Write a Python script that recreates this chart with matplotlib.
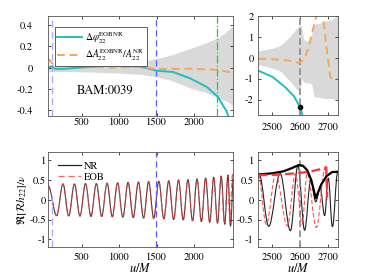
import matplotlib
matplotlib.use('Agg')
import matplotlib.pyplot as plt
from matplotlib.path import Path
from matplotlib.patches import PathPatch
from matplotlib.lines import Line2D
import numpy as np

plt.rcParams['font.family'] = ['STIXGeneral', 'DejaVu Serif']
plt.rcParams['mathtext.fontset'] = 'stix'
plt.rcParams['axes.unicode_minus'] = False

#%% data
# vertical markers (u/M)
u_start = 108
u_match = 1490
u_green = 2310
u_merger = 2600

# top-left: uncertainty band
u_band = [55, 300, 700, 1000, 1300, 1500, 1700, 1950, 2150, 2315, 2420, 2515]
band_hi = [0.03, 0.032, 0.04, 0.05, 0.06, 0.085, 0.12, 0.18, 0.23, 0.28, 0.33, 0.39]
band_lo = [-0.035, -0.035, -0.042, -0.05, -0.063, -0.085, -0.12, -0.19, -0.23, -0.28, -0.31, -0.35]

# top-left: phase difference
u_dphi = [55, 100, 150, 280, 460, 680, 900, 1000, 1120, 1260, 1350, 1500, 1720, 1950, 2170, 2315, 2436, 2480]
dphi = [0.0, 0.01, -0.012, -0.01, 0.0, 0.01, 0.025, 0.02, 0.015, 0.01, 0.0, -0.028, -0.04, -0.1, -0.18, -0.27, -0.41, -0.5]

# top-left: amplitude difference
u_damp = [55, 107, 218, 440, 900, 1262, 1497, 1720, 1949, 2315, 2515]
damp = [0.087, 0.04, 0.025, 0.02, 0.0, 0.01, -0.012, -0.012, -0.01, -0.02, -0.047]

# top-right (zoom on merger)
u_band_r = [2450, 2500, 2530, 2555, 2575, 2590, 2600, 2606, 2612, 2620, 2635, 2642, 2650, 2670, 2690, 2710, 2735]
band_hi_r = [0.33, 0.45, 0.6, 0.9, 1.2, 1.45, 1.55, 1.5, 0.9, 0.8, 0.8, 1.2, 1.6, 1.65, 1.75, 1.8, 2.0]
band_lo_r = [-0.33, -0.5, -0.65, -1.0, -1.3, -1.55, -1.6, -1.0, -1.15, -1.2, -1.2, -1.3, -1.85, -1.9, -1.95, -1.95, -2.0]

u_dphi_r = [2450, 2501, 2547, 2577, 2600, 2612]
dphi_r = [-0.62, -0.92, -1.42, -1.83, -2.37, -2.9]

u_damp_r = [2450, 2512, 2553, 2597, 2618, 2635, 2653, 2665, 2675, 2682, 2694, 2708, 2715, 2740]
damp_r = [-0.05, -0.08, -0.12, -0.25, 0.0, 0.75, 1.75, 2.3, 2.3, 2.0, 0.58, -0.9, -1.0, -1.0]

# bottom: waveform extrema (u, Re[R h22]/nu)
u_nr = [55, 167, 252, 328, 405, 478, 552, 625, 697, 768, 840, 910, 980, 1050, 1120,
        1189, 1258, 1327, 1395, 1462, 1530, 1597, 1663, 1728, 1793, 1856, 1919, 1980,
        2040, 2098, 2155, 2209, 2263, 2313, 2363, 2410, 2453, 2487, 2528, 2565, 2592,
        2616, 2638, 2656, 2672, 2688, 2701, 2716, 2735]
h_nr = [0.35, -0.40, 0.40, -0.41, 0.40, -0.41, 0.41, -0.42, 0.41, -0.42, 0.42, -0.43,
        0.43, -0.44, 0.44, -0.45, 0.45, -0.46, 0.46, -0.47, 0.47, -0.48, 0.48, -0.50,
        0.50, -0.51, 0.51, -0.53, 0.53, -0.55, 0.55, -0.57, 0.57, -0.59, 0.60, -0.62,
        0.63, -0.67, 0.67, -0.78, 0.87, -0.77, 0.50, -0.05, 0.30, -0.40, 0.55, -0.68, 0.70]

u_eob = [55, 167, 252, 328, 405, 478, 552, 625, 697, 768, 840, 910, 980, 1050, 1120,
         1189, 1258, 1327, 1395, 1462, 1530, 1597, 1663, 1728, 1793, 1856, 1919, 1980,
         2040, 2098, 2155, 2209, 2263, 2313, 2360, 2405, 2450, 2478, 2512, 2554, 2583,
         2607, 2625, 2658, 2690, 2698]
h_eob = [0.35, -0.40, 0.40, -0.41, 0.40, -0.41, 0.41, -0.42, 0.41, -0.42, 0.42, -0.43,
         0.43, -0.44, 0.44, -0.45, 0.45, -0.46, 0.46, -0.47, 0.47, -0.48, 0.48, -0.50,
         0.50, -0.51, 0.51, -0.53, 0.53, -0.55, 0.55, -0.57, 0.57, -0.59, 0.60, -0.61,
         0.62, -0.62, 0.64, -0.66, 0.66, -0.62, 0.68, -0.70, 0.80, 0.0]

# bottom-right: amplitudes
u_amp_nr = [2450, 2500, 2540, 2570, 2595, 2610, 2625, 2640, 2656, 2675, 2695, 2715, 2735]
amp_nr = [0.64, 0.67, 0.72, 0.8, 0.88, 0.86, 0.75, 0.5, 0.04, 0.38, 0.6, 0.7, 0.71]
u_amp_eob = [2450, 2500, 2550, 2600, 2640, 2670, 2690, 2694, 2697]
amp_eob = [0.62, 0.63, 0.65, 0.68, 0.72, 0.77, 0.82, 0.82, 0.05]

#%% styling
c_cyan = '#1fbfbf'
c_orange = '#f5a65b'
c_band = '#d9d9d9'
c_blue = '#5a5aff'
c_lblue = '#aaaaff'
c_green = '#11dd11'
c_red = '#ff3333'
c_nr = '#222222'


def wave_patch(u, h, **kw):
    # smooth curve through the waveform extrema (flat tangent at each extremum)
    verts = [(u[0], h[0])]
    codes = [Path.MOVETO]
    for i in range(len(u) - 1):
        d = u[i + 1] - u[i]
        verts += [(u[i] + 0.36 * d, h[i]), (u[i + 1] - 0.36 * d, h[i + 1]), (u[i + 1], h[i + 1])]
        codes += [Path.CURVE4] * 3
    return PathPatch(Path(verts, codes), fill=False, **kw)


fig = plt.figure(figsize=(3.74, 2.79), dpi=100)
ax_tl = fig.add_axes([0.129, 0.585, 0.493, 0.358])
ax_tr = fig.add_axes([0.691, 0.587, 0.212, 0.356])
ax_bl = fig.add_axes([0.129, 0.1136, 0.493, 0.3405])
ax_br = fig.add_axes([0.691, 0.1136, 0.212, 0.3405])

fmt = matplotlib.ticker.FormatStrFormatter('%g')
for ax in (ax_tl, ax_tr, ax_bl, ax_br):
    ax.tick_params(direction='in', top=True, right=True, labelsize=7.5,
                   length=2.5, width=0.5)
    ax.yaxis.set_major_formatter(fmt)
    for s in ax.spines.values():
        s.set_linewidth(0.6)
        s.set_color('#555555')

# top-left
ax_tl.fill_between(u_band, band_lo, band_hi, color=c_band, lw=0)
ax_tl.axvline(u_start, color=c_lblue, ls=(0, (5, 3)), lw=1.0)
ax_tl.axvline(u_match, color=c_blue, ls=(0, (5, 3)), lw=0.9)
ax_tl.axvline(u_green, color=c_green, ls='-.', lw=0.9)
ax_tl.plot(u_dphi, dphi, color=c_cyan, lw=1.4,
           label=r'$\Delta\varphi_{22}^{\rm EOBNR}$')
ax_tl.plot(u_damp, damp, color=c_orange, lw=1.4, ls=(0, (4, 2.5)),
           label=r'$\Delta A_{22}^{\rm EOBNR}/A_{22}^{\rm NR}$')
ax_tl.set_xlim(55, 2515)
ax_tl.set_ylim(-0.45, 0.485)
ax_tl.set_yticks([-0.4, -0.2, 0, 0.2, 0.4])
ax_tl.set_xticks([500, 1000, 1500, 2000])
ax_tl.tick_params(axis='y', pad=11)
ax_tl.tick_params(axis='x', pad=1)
leg = ax_tl.legend(loc='upper left', bbox_to_anchor=(0.035, 0.885), fontsize=7,
                   fancybox=False, edgecolor='#444444', borderaxespad=0,
                   borderpad=0.25, labelspacing=0.15, handlelength=2.6,
                   handletextpad=0.3, framealpha=1)
leg.get_frame().set_linewidth(0.6)
ax_tl.text(0.31, 0.245, 'BAM:0039', transform=ax_tl.transAxes, fontsize=9,
           ha='center', va='center')

# top-right
ax_tr.fill_between(u_band_r, band_lo_r, band_hi_r, color=c_band, lw=0)
ax_tr.axvline(u_merger, color='#888888', ls=(0, (4, 2)), lw=1.2)
ax_tr.plot(u_dphi_r, dphi_r, color=c_cyan, lw=1.4)
ax_tr.plot(u_damp_r, damp_r, color=c_orange, lw=1.4, ls=(0, (4, 2.5)))
ax_tr.plot([u_merger], [np.interp(u_merger, u_dphi_r, dphi_r)], 'o', color='k', ms=3)
ax_tr.set_xlim(2450, 2735)
ax_tr.set_ylim(-2.75, 2.0)
ax_tr.set_yticks([-2, -1, 0, 1, 2])
ax_tr.set_xticks([2500, 2600, 2700])
ax_tr.tick_params(axis='x', pad=5)

# bottom-left
ax_bl.axvline(u_start, ymax=0.58, color=c_lblue, ls=(0, (5, 3)), lw=1.0)
ax_bl.axvline(u_match, color=c_blue, ls=(0, (5, 3)), lw=0.9)
ax_bl.add_patch(wave_patch(u_nr, h_nr, edgecolor=c_nr, lw=0.8, alpha=0.85))
ax_bl.add_patch(wave_patch(u_eob, h_eob, edgecolor=c_red, lw=0.8,
                           ls=(0, (5, 3)), alpha=0.75))
ax_bl.set_xlim(55, 2515)
ax_bl.set_ylim(-1.2, 1.2)
ax_bl.set_yticks([-1, -0.5, 0, 0.5, 1])
ax_bl.set_xticks([500, 1000, 1500, 2000])
ax_bl.tick_params(axis='y', pad=1.5)
ax_bl.tick_params(axis='x', pad=3.5)
handles = [Line2D([], [], color=c_nr, lw=0.9),
           Line2D([], [], color=c_red, lw=0.9, ls=(0, (5, 3)), alpha=0.75)]
ax_bl.legend(handles, ['NR', 'EOB'], loc='upper left', bbox_to_anchor=(0.03, 0.95),
             fontsize=7.5, frameon=False, borderaxespad=0, labelspacing=0.15,
             handlelength=2.2, handletextpad=0.3)
ax_bl.set_xlabel(r'$u/M$', fontsize=9, labelpad=0)
ax_bl.set_ylabel(r'$\Re[\mathcal{R}h_{22}]/\nu$', fontsize=8)
ax_bl.yaxis.set_label_coords(-0.105, 0.5)

# bottom-right
ax_br.axvline(u_merger, color='#888888', ls=(0, (4, 2)), lw=1.2)
ax_br.add_patch(wave_patch(u_nr, h_nr, edgecolor=c_nr, lw=0.8))
ax_br.add_patch(wave_patch(u_eob, h_eob, edgecolor=c_red, lw=0.8,
                           ls=(0, (4, 2)), alpha=0.85))
ax_br.plot(u_amp_nr, amp_nr, color='k', lw=1.6)
ax_br.plot(u_amp_eob, amp_eob, color=c_red, lw=1.6, ls=(0, (4, 2)))
ax_br.set_xlim(2450, 2735)
ax_br.set_ylim(-1.2, 1.2)
ax_br.set_yticks([-1, -0.5, 0, 0.5, 1])
ax_br.set_xticks([2500, 2600, 2700])
ax_br.tick_params(axis='x', pad=3.5)
ax_br.set_xlabel(r'$u/M$', fontsize=9, labelpad=0)

fig.savefig('out.png', dpi=100)
